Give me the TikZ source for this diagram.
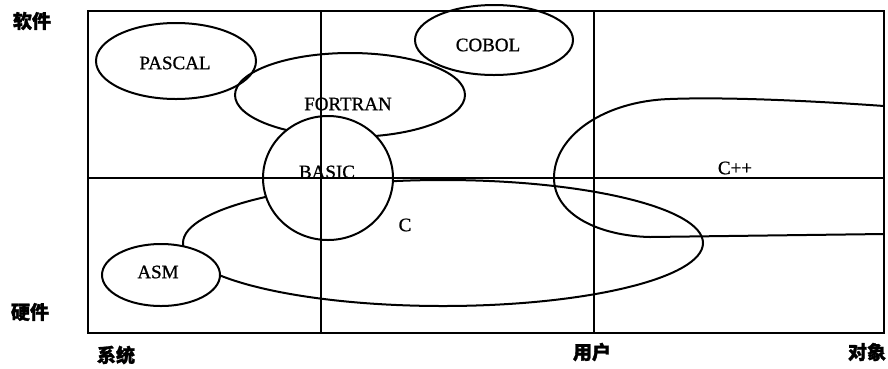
\documentclass[tikz,border=0pt]{standalone}
\usepackage{fontspec}
\setmainfont{Liberation Serif}
\newfontfamily\thickserif[FakeBold=1]{Liberation Serif}
\newfontfamily\cjk[FakeBold=1.5]{Noto Sans CJK SC}
\usetikzlibrary{shapes.geometric}

\begin{document}
\begin{tikzpicture}[x=1pt, y=-1pt, line width=2pt,
    lang/.style={draw, ellipse, inner sep=0pt},
    langname/.style={font=\thickserif\fontsize{19}{19}\selectfont, inner sep=0pt},
    axislabel/.style={font=\cjk\bfseries\fontsize{19}{19}\selectfont, inner sep=0pt}]
    \useasboundingbox (0,0) rectangle (888,368);
    % open outlines
    \node[lang, minimum width=160pt, minimum height=76pt] (pascal) at (176,61) {};
    \node[lang, minimum width=230pt, minimum height=84pt] (fortran) at (350,95) {};
    \node[lang, minimum width=158pt, minimum height=70pt] (cobol) at (494,40) {};
    \node[lang, minimum width=520pt, minimum height=126pt] (c) at (443,243) {};
    \draw (884,106) .. controls (800,100) and (720,97) .. (670,99)
          .. controls (605,101) and (554,135) .. (554,178)
          .. controls (554,215) and (600,236) .. (650,237) -- (884,234);
    % BASIC and ASM cover what lies behind them
    \node[lang, fill=white, minimum width=130pt, minimum height=124pt] (basic) at (328,178) {};
    \node[lang, fill=white, minimum width=118pt, minimum height=62pt] (asm) at (161,275) {};
    % frame
    \draw (88,11) rectangle (884,333);
    \draw (321,11) -- (321,333);
    \draw (594,11) -- (594,333);
    \draw (88,178) -- (884,178);
    % names
    \node[langname] (pascal-t) at (175,63) {PASCAL};
    \node[langname] (fortran-t) at (348,104) {FORTRAN};
    \node[langname] (cobol-t) at (488,45) {COBOL};
    \node[langname] (basic-t) at (327,172) {BASIC};
    \node[langname] (c-t) at (405,225) {C};
    \node[langname] (cpp-t) at (735,168) {C++};
    \node[langname] (asm-t) at (158,272) {ASM};
    \node[axislabel] (soft) at (32,21) {软件};
    \node[axislabel] (hard) at (30,312) {硬件};
    \node[axislabel] (sys) at (116,355) {系统};
    \node[axislabel] (user) at (592,352) {用户};
    \node[axislabel] (obj) at (867,352) {对象};
\end{tikzpicture}
\end{document}
